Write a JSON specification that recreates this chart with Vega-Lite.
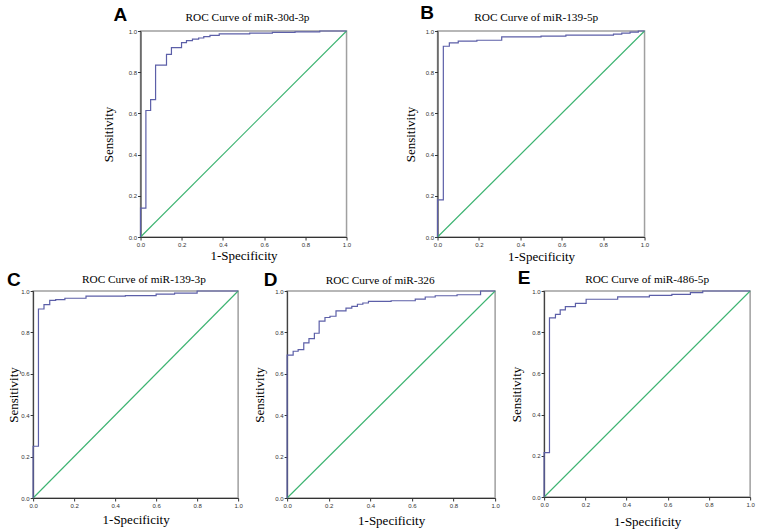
{
  "$schema": "https://vega.github.io/schema/vega-lite/v6.json",
  "background": "white",
  "padding": {"left": 4, "top": 3, "right": 0, "bottom": 0},
  "spacing": 3,
  "center": true,
  "datasets": {
    "reference": [{"fpr": 0, "tpr": 0}, {"fpr": 1, "tpr": 1}],
    "roc_A": [
      {"fpr": 0, "tpr": 0}, {"fpr": 0.026, "tpr": 0.14}, {"fpr": 0.049, "tpr": 0.614}, {"fpr": 0.073, "tpr": 0.667},
      {"fpr": 0.126, "tpr": 0.834}, {"fpr": 0.15, "tpr": 0.887}, {"fpr": 0.199, "tpr": 0.919}, {"fpr": 0.223, "tpr": 0.944},
      {"fpr": 0.252, "tpr": 0.953}, {"fpr": 0.282, "tpr": 0.961}, {"fpr": 0.307, "tpr": 0.966}, {"fpr": 0.337, "tpr": 0.973},
      {"fpr": 0.382, "tpr": 0.979}, {"fpr": 0.53, "tpr": 0.986}, {"fpr": 0.64, "tpr": 0.99}, {"fpr": 0.75, "tpr": 0.993},
      {"fpr": 0.87, "tpr": 0.996}, {"fpr": 1, "tpr": 1}
    ],
    "roc_B": [
      {"fpr": 0, "tpr": 0}, {"fpr": 0.028, "tpr": 0.18}, {"fpr": 0.057, "tpr": 0.926}, {"fpr": 0.1, "tpr": 0.942},
      {"fpr": 0.19, "tpr": 0.951}, {"fpr": 0.31, "tpr": 0.955}, {"fpr": 0.5, "tpr": 0.971}, {"fpr": 0.62, "tpr": 0.975},
      {"fpr": 0.85, "tpr": 0.98}, {"fpr": 0.89, "tpr": 0.985}, {"fpr": 0.93, "tpr": 0.99}, {"fpr": 0.97, "tpr": 0.995},
      {"fpr": 1, "tpr": 1}
    ],
    "roc_C": [
      {"fpr": 0, "tpr": 0}, {"fpr": 0.026, "tpr": 0.25}, {"fpr": 0.053, "tpr": 0.913}, {"fpr": 0.081, "tpr": 0.934},
      {"fpr": 0.11, "tpr": 0.955}, {"fpr": 0.155, "tpr": 0.958}, {"fpr": 0.258, "tpr": 0.965}, {"fpr": 0.45, "tpr": 0.975},
      {"fpr": 0.6, "tpr": 0.978}, {"fpr": 0.69, "tpr": 0.985}, {"fpr": 0.8, "tpr": 0.99}, {"fpr": 1, "tpr": 1}
    ],
    "roc_D": [
      {"fpr": 0, "tpr": 0}, {"fpr": 0.029, "tpr": 0.69}, {"fpr": 0.053, "tpr": 0.709}, {"fpr": 0.08, "tpr": 0.717},
      {"fpr": 0.105, "tpr": 0.749}, {"fpr": 0.131, "tpr": 0.77}, {"fpr": 0.154, "tpr": 0.796}, {"fpr": 0.182, "tpr": 0.854},
      {"fpr": 0.206, "tpr": 0.872}, {"fpr": 0.235, "tpr": 0.878}, {"fpr": 0.283, "tpr": 0.904}, {"fpr": 0.311, "tpr": 0.917},
      {"fpr": 0.338, "tpr": 0.926}, {"fpr": 0.364, "tpr": 0.936}, {"fpr": 0.391, "tpr": 0.942}, {"fpr": 0.5, "tpr": 0.95},
      {"fpr": 0.616, "tpr": 0.953}, {"fpr": 0.664, "tpr": 0.961}, {"fpr": 0.712, "tpr": 0.971}, {"fpr": 0.817, "tpr": 0.977},
      {"fpr": 0.93, "tpr": 0.982}, {"fpr": 1, "tpr": 1}
    ],
    "roc_E": [
      {"fpr": 0, "tpr": 0}, {"fpr": 0.026, "tpr": 0.215}, {"fpr": 0.055, "tpr": 0.87}, {"fpr": 0.078, "tpr": 0.887},
      {"fpr": 0.103, "tpr": 0.908}, {"fpr": 0.152, "tpr": 0.924}, {"fpr": 0.204, "tpr": 0.94}, {"fpr": 0.357, "tpr": 0.96},
      {"fpr": 0.511, "tpr": 0.971}, {"fpr": 0.62, "tpr": 0.979}, {"fpr": 0.71, "tpr": 0.984}, {"fpr": 0.77, "tpr": 0.992},
      {"fpr": 1, "tpr": 1}
    ]
  },
  "vconcat": [
    {
      "spacing": 52,
      "hconcat": [
        {
          "width": 206, "height": 206,
          "title": {"text": "ROC Curve of miR-30d-3p", "dx": 4, "offset": -17.3},
          "layer": [
            {"data": {"name": "reference"}, "mark": {"type": "line", "color": "#3cb371", "strokeWidth": 1.1},
             "encoding": {
               "x": {"field": "fpr", "type": "quantitative", "scale": {"domain": [0, 1], "nice": false, "zero": false}, "axis": {"title": "1-Specificity", "values": [0, 0.2, 0.4, 0.6, 0.8, 1], "format": ".1f", "titlePadding": 2.5}},
               "y": {"field": "tpr", "type": "quantitative", "scale": {"domain": [0, 1], "nice": false, "zero": false}, "axis": {"title": "Sensitivity", "values": [0, 0.2, 0.4, 0.6, 0.8, 1], "format": ".1f", "titlePadding": 12.2}}}},
            {"data": {"name": "roc_A"}, "mark": {"type": "line", "interpolate": "step-before", "color": "#5c5fa8", "strokeWidth": 1.2},
             "encoding": {
               "x": {"field": "fpr", "type": "quantitative", "scale": {"domain": [0, 1]}},
               "y": {"field": "tpr", "type": "quantitative", "scale": {"domain": [0, 1]}}}},
            {"data": {"values": [{"label": "A"}]}, "mark": {"type": "text", "font": "Liberation Sans", "fontSize": 19, "fontWeight": "bold", "align": "left", "baseline": "alphabetic", "color": "#000"},
             "encoding": {
               "x": {"datum": -0.131, "type": "quantitative", "scale": {"domain": [0, 1]}},
               "y": {"datum": 1.0485, "type": "quantitative", "scale": {"domain": [0, 1]}},
               "text": {"field": "label"}}}
          ]
        },
        {
          "width": 207, "height": 206,
          "title": {"text": "ROC Curve of miR-139-5p", "dx": -4.8, "offset": -19.3},
          "layer": [
            {"data": {"name": "reference"}, "mark": {"type": "line", "color": "#3cb371", "strokeWidth": 1.1},
             "encoding": {
               "x": {"field": "fpr", "type": "quantitative", "scale": {"domain": [0, 1], "nice": false, "zero": false}, "axis": {"title": "1-Specificity", "values": [0, 0.2, 0.4, 0.6, 0.8, 1], "format": ".1f", "titlePadding": 3.5}},
               "y": {"field": "tpr", "type": "quantitative", "scale": {"domain": [0, 1], "nice": false, "zero": false}, "axis": {"title": "Sensitivity", "values": [0, 0.2, 0.4, 0.6, 0.8, 1], "format": ".1f", "titlePadding": 7.5}}}},
            {"data": {"name": "roc_B"}, "mark": {"type": "line", "interpolate": "step-before", "color": "#5c5fa8", "strokeWidth": 1.2},
             "encoding": {
               "x": {"field": "fpr", "type": "quantitative", "scale": {"domain": [0, 1]}},
               "y": {"field": "tpr", "type": "quantitative", "scale": {"domain": [0, 1]}}}},
            {"data": {"values": [{"label": "B"}]}, "mark": {"type": "text", "font": "Liberation Sans", "fontSize": 19, "fontWeight": "bold", "align": "left", "baseline": "alphabetic", "color": "#000"},
             "encoding": {
               "x": {"datum": -0.0836, "type": "quantitative", "scale": {"domain": [0, 1]}},
               "y": {"datum": 1.058, "type": "quantitative", "scale": {"domain": [0, 1]}},
               "text": {"field": "label"}}}
          ]
        }
      ]
    },
    {
      "spacing": 9,
      "hconcat": [
        {
          "width": 205, "height": 207,
          "title": {"text": "ROC Curve of miR-139-3p", "dx": 8.3, "offset": -14.3},
          "resolve": {"axis": {"y": "independent"}},
          "layer": [
            {"data": {"name": "reference"}, "mark": {"type": "line", "color": "#3cb371", "strokeWidth": 1.1},
             "encoding": {
               "x": {"field": "fpr", "type": "quantitative", "scale": {"domain": [0, 1], "nice": false, "zero": false}, "axis": {"title": "1-Specificity", "values": [0, 0.2, 0.4, 0.6, 0.8, 1], "format": ".1f", "titlePadding": 5}},
               "y": {"field": "tpr", "type": "quantitative", "scale": {"domain": [0, 1], "nice": false, "zero": false}, "axis": {"orient": "left", "title": "Sensitivity", "values": [0, 0.2, 0.4, 0.6, 0.8, 1], "format": ".1f", "titlePadding": 0}}}},
            {"data": {"name": "roc_C"}, "mark": {"type": "line", "interpolate": "step-before", "color": "#5c5fa8", "strokeWidth": 1.2},
             "encoding": {
               "x": {"field": "fpr", "type": "quantitative", "scale": {"domain": [0, 1]}},
               "y": {"field": "tpr", "type": "quantitative", "scale": {"domain": [0, 1]}, "axis": null}}},
            {"data": {"values": [{"label": "C"}]}, "mark": {"type": "text", "font": "Liberation Sans", "fontSize": 19, "fontWeight": "bold", "align": "left", "baseline": "alphabetic", "color": "#000"},
             "encoding": {
               "x": {"datum": -0.127, "type": "quantitative", "scale": {"domain": [0, 1]}},
               "y": {"datum": 1.024, "type": "quantitative", "scale": {"domain": [0, 1]}, "axis": {"orient": "left", "offset": 28, "title": null, "labels": false, "ticks": false, "domainOpacity": 0}},
               "text": {"field": "label"}}}
          ]
        },
        {
          "width": 208, "height": 207,
          "title": {"text": "ROC Curve of miR-326", "dx": -11, "offset": -15},
          "layer": [
            {"data": {"name": "reference"}, "mark": {"type": "line", "color": "#3cb371", "strokeWidth": 1.1},
             "encoding": {
               "x": {"field": "fpr", "type": "quantitative", "scale": {"domain": [0, 1], "nice": false, "zero": false}, "axis": {"title": "1-Specificity", "values": [0, 0.2, 0.4, 0.6, 0.8, 1], "format": ".1f", "titlePadding": 6}},
               "y": {"field": "tpr", "type": "quantitative", "scale": {"domain": [0, 1], "nice": false, "zero": false}, "axis": {"title": "Sensitivity", "values": [0, 0.2, 0.4, 0.6, 0.8, 1], "format": ".1f", "titlePadding": 8.6}}}},
            {"data": {"name": "roc_D"}, "mark": {"type": "line", "interpolate": "step-before", "color": "#5c5fa8", "strokeWidth": 1.2},
             "encoding": {
               "x": {"field": "fpr", "type": "quantitative", "scale": {"domain": [0, 1]}},
               "y": {"field": "tpr", "type": "quantitative", "scale": {"domain": [0, 1]}}}},
            {"data": {"values": [{"label": "D"}]}, "mark": {"type": "text", "font": "Liberation Sans", "fontSize": 19, "fontWeight": "bold", "align": "left", "baseline": "alphabetic", "color": "#000"},
             "encoding": {
               "x": {"datum": -0.112, "type": "quantitative", "scale": {"domain": [0, 1]}},
               "y": {"datum": 1.024, "type": "quantitative", "scale": {"domain": [0, 1]}},
               "text": {"field": "label"}}}
          ]
        },
        {
          "width": 206, "height": 206,
          "title": {"text": "ROC Curve of miR-486-5p", "dx": 0, "offset": -16.8},
          "resolve": {"axis": {"y": "independent"}},
          "layer": [
            {"data": {"name": "reference"}, "mark": {"type": "line", "color": "#3cb371", "strokeWidth": 1.1},
             "encoding": {
               "x": {"field": "fpr", "type": "quantitative", "scale": {"domain": [0, 1], "nice": false, "zero": false}, "axis": {"title": "1-Specificity", "values": [0, 0.2, 0.4, 0.6, 0.8, 1], "format": ".1f", "titlePadding": 8.5}},
               "y": {"field": "tpr", "type": "quantitative", "scale": {"domain": [0, 1], "nice": false, "zero": false}, "axis": {"orient": "left", "title": "Sensitivity", "values": [0, 0.2, 0.4, 0.6, 0.8, 1], "format": ".1f", "titlePadding": 8.3}}}},
            {"data": {"name": "roc_E"}, "mark": {"type": "line", "interpolate": "step-before", "color": "#5c5fa8", "strokeWidth": 1.2},
             "encoding": {
               "x": {"field": "fpr", "type": "quantitative", "scale": {"domain": [0, 1]}},
               "y": {"field": "tpr", "type": "quantitative", "scale": {"domain": [0, 1]}, "axis": null}}},
            {"data": {"values": [{"label": "E"}]}, "mark": {"type": "text", "font": "Liberation Sans", "fontSize": 19, "fontWeight": "bold", "align": "left", "baseline": "alphabetic", "color": "#000"},
             "encoding": {
               "x": {"datum": -0.128, "type": "quantitative", "scale": {"domain": [0, 1]}},
               "y": {"datum": 1.034, "type": "quantitative", "scale": {"domain": [0, 1]}, "axis": {"orient": "right", "offset": 6, "title": null, "labels": false, "ticks": false, "domainOpacity": 0}},
               "text": {"field": "label"}}}
          ]
        }
      ]
    }
  ],
  "config": {
    "view": {"stroke": "#a0a0a0", "strokeWidth": 1.5},
    "title": {"font": "Liberation Serif", "fontSize": 11.3, "fontWeight": "normal", "color": "#000", "anchor": "middle", "baseline": "alphabetic"},
    "axis": {"grid": false, "domainColor": "#333", "domainWidth": 1, "tickColor": "#333", "tickSize": 3, "labelFont": "Liberation Sans", "labelFontSize": 6, "labelColor": "#333", "labelPadding": 1, "labelFlush": false, "labelOverlap": false, "labelBound": false, "titleFont": "Liberation Serif", "titleFontSize": 13, "titleFontWeight": "normal", "titleColor": "#000"}
  }
}
